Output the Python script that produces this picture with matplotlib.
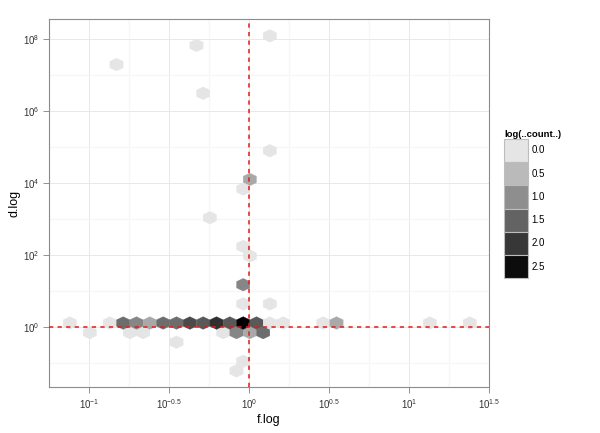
import numpy as np
import matplotlib
matplotlib.use("Agg")
import matplotlib.pyplot as plt
from matplotlib.colors import LinearSegmentedColormap, Normalize
from matplotlib.patches import Patch

plt.rcParams.update({
    "font.family": ["Liberation Sans", "DejaVu Sans"],
    "mathtext.fontset": "custom",
    "mathtext.rm": "Liberation Sans",
    "mathtext.it": "Liberation Sans:italic",
    "mathtext.bf": "Liberation Sans:bold",
})

# hex centres (log10 of f and d) and the count in each hex
f_log10 = [
    # main row just above d = 1
    -1.12, -0.87, -0.79, -0.70, -0.62, -0.54, -0.45, -0.37, -0.29, -0.20,
    -0.12, -0.04, 0.05, 0.13, 0.21, 0.46, 0.55, 1.13, 1.38,
    # row just below d = 1
    -1.00, -0.74, -0.66, -0.16, -0.08, 0.005, 0.09,
    # the rest
    -0.45, -0.04, -0.08, -0.04, 0.13, -0.04, 0.005, -0.04, -0.245,
    -0.04, 0.005, 0.13, -0.29, -0.83, -0.33, 0.13,
]
d_log10 = [
    0.11, 0.11, 0.11, 0.11, 0.11, 0.11, 0.11, 0.11, 0.11, 0.11,
    0.11, 0.11, 0.11, 0.11, 0.11, 0.11, 0.11, 0.11, 0.11,
    -0.155, -0.155, -0.155, -0.155, -0.155, -0.155, -0.155,
    -0.42, -0.95, -1.22, 0.64, 0.64, 1.17, 1.97, 2.24, 3.04,
    3.83, 4.10, 4.90, 6.50, 7.29, 7.83, 8.09,
]
counts = [
    1, 1, 4, 3, 2, 4, 4, 6, 5, 8,
    5, 14, 5, 1, 1, 1, 2, 1, 1,
    1, 1, 1, 1, 3, 2, 4,
    1, 1, 1, 1, 1, 3, 1, 1, 1,
    1, 2, 1, 1, 1, 1, 1,
]

x_ticks = [-1, -0.5, 0, 0.5, 1, 1.5]
x_tick_text = ["-1", "-0.5", "0", "0.5", "1", "1.5"]
y_ticks = [0, 2, 4, 6, 8]
y_tick_text = ["0", "2", "4", "6", "8"]
legend_levels = [0.0, 0.5, 1.0, 1.5, 2.0, 2.5]

# hex grid (ggplot's 30 bins)
BW = 2.5 / 30
ROW = 0.266
SY = 2 * ROW
NX, NY = 34, 20
xmin = 0.0052 - 16 * BW
ymin = -0.155 - 3 * SY
extent = (xmin, xmin + NX * BW, ymin, ymin + NY * SY)

cmap = LinearSegmentedColormap.from_list("greys", ["#e5e5e5", "#000000"])
norm = Normalize(vmin=0, vmax=np.log(max(counts)))

fig = plt.figure(figsize=(6, 4.33), dpi=100)
ax = fig.add_axes([49 / 600, 1 - 387 / 433, 440 / 600, 368 / 433])

ax.hexbin(f_log10, d_log10, C=np.log(counts), reduce_C_function=np.max,
          gridsize=(NX, NY), extent=extent, cmap=cmap, norm=norm,
          edgecolors="face", linewidths=0.2, zorder=2)

ax.axvline(0, color="#e41a1a", lw=1.1, dashes=(2.8, 2.8), zorder=3)
ax.axhline(0, color="#e41a1a", lw=1.1, dashes=(2.8, 2.8), zorder=3)

ax.set_xlim(-1.25, 1.5)
ax.set_ylim(-1.667, 8.56)

ax.set_xticks(x_ticks)
ax.set_xticklabels([r"$10^{%s}$" % t for t in x_tick_text])
ax.set_xticks(np.arange(-1.25, 1.5, 0.5), minor=True)
ax.set_yticks(y_ticks)
ax.set_yticklabels([r"$10^{%s}$" % t for t in y_tick_text])
ax.set_yticks([-1, 1, 3, 5, 7], minor=True)

ax.set_axisbelow(True)
ax.grid(True, which="major", color="#e8e8e8", lw=0.7)
ax.grid(True, which="minor", color="#f6f6f6", lw=0.9)
ax.tick_params(which="major", length=4, width=0.6, color="#7f7f7f",
               labelsize=7, labelcolor="#333333", pad=3)
ax.tick_params(which="minor", length=0)
for s in ax.spines.values():
    s.set_color("#8c8c8c")
    s.set_linewidth(0.8)

ax.set_xlabel("f.log", fontsize=9)
ax.set_ylabel("d.log", fontsize=9)
ax.xaxis.set_label_coords(0.5, -0.073)
ax.yaxis.set_label_coords(-0.065, 0.5)

handles = [Patch(facecolor=cmap(norm(v)), edgecolor="#bdbdbd", lw=0.8)
           for v in legend_levels]
fig.legend(handles, ["%.1f" % v for v in legend_levels],
           title="log(..count..)", alignment="left",
           title_fontproperties={"weight": "bold", "size": 6.8},
           fontsize=7, loc="upper left",
           bbox_to_anchor=(504 / 600, 1 - 130 / 433),
           frameon=False, borderpad=0, borderaxespad=0,
           handlelength=2.5, handleheight=3.3, labelspacing=0,
           handletextpad=0.3)

fig.savefig("out.png", dpi=100)
